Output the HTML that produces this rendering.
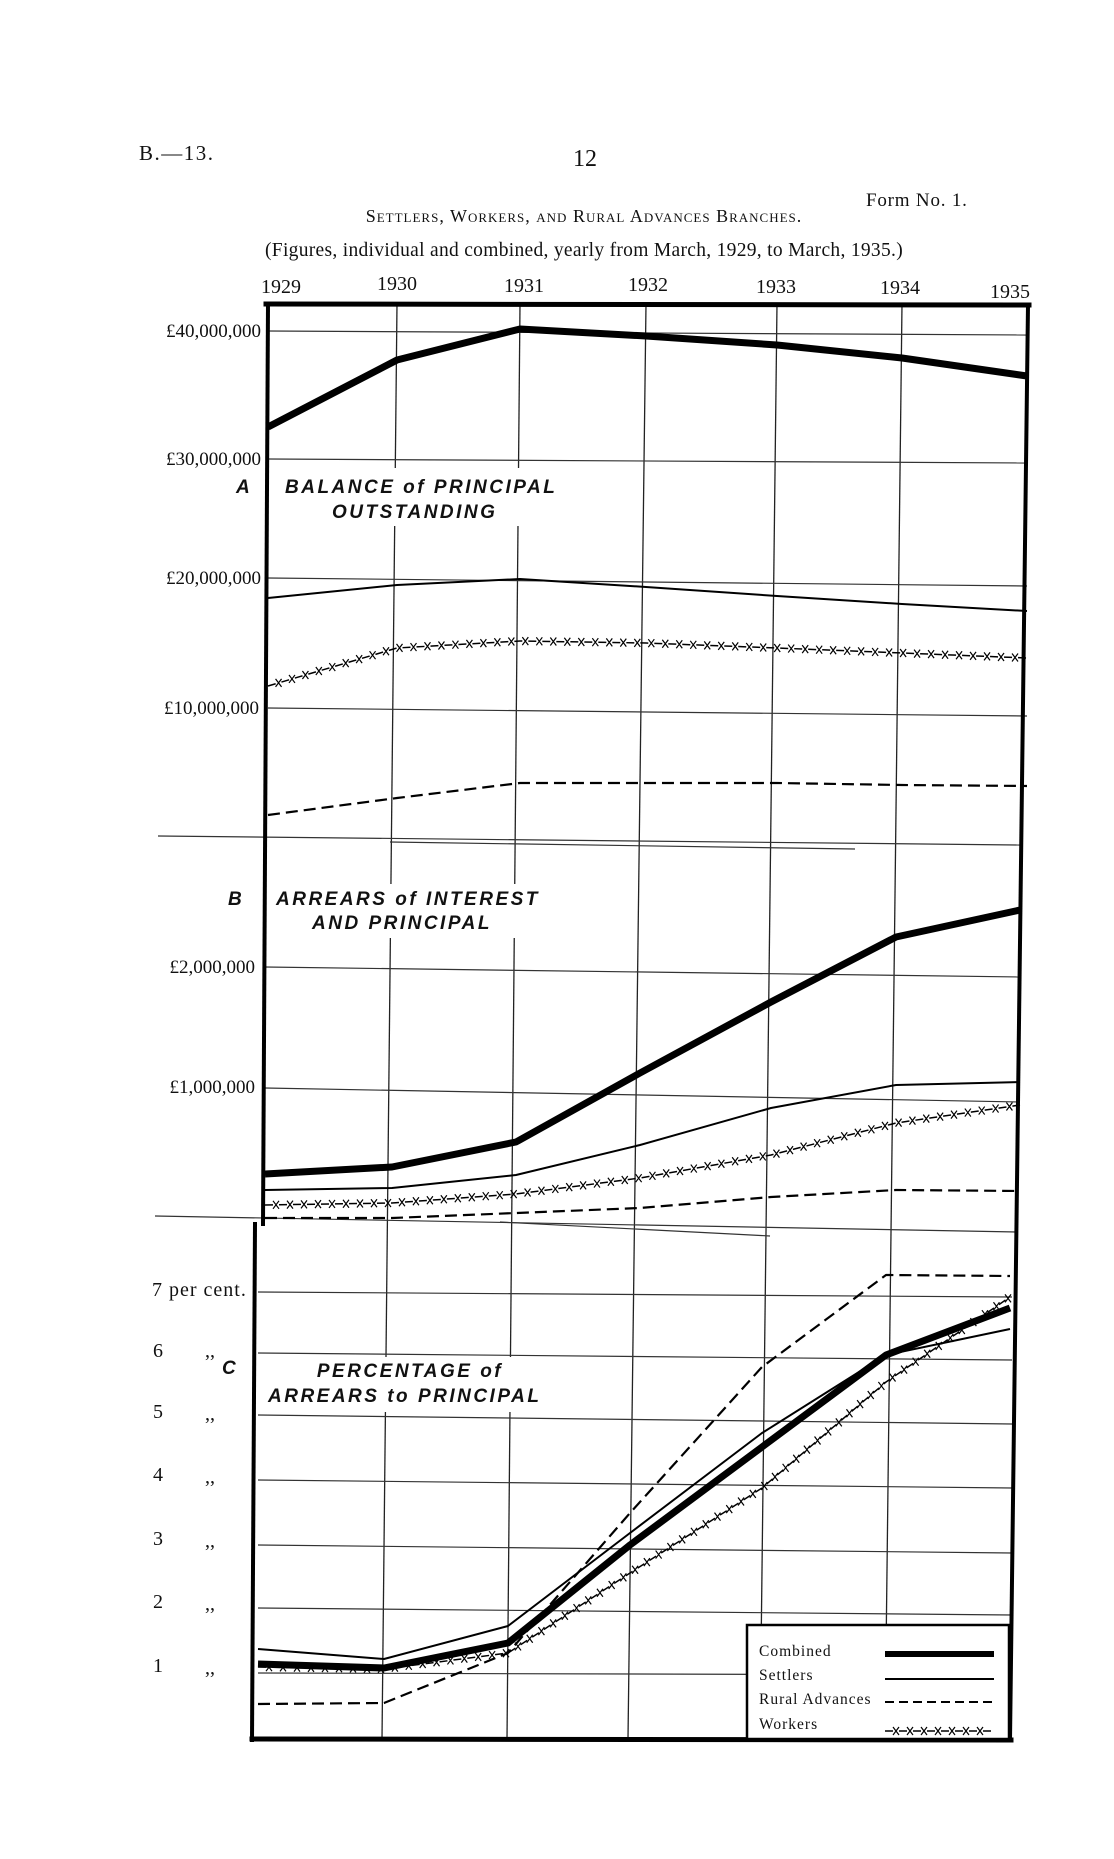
<!DOCTYPE html>
<html><head><meta charset="utf-8"><style>
html,body{margin:0;padding:0;background:#fff}
svg{display:block}
.s{font-family:"Liberation Serif",serif;fill:#111}
.l{font-family:"Liberation Sans",sans-serif;font-weight:bold;font-style:italic;fill:#111;letter-spacing:2.5px}
</style></head><body>
<svg id="c" width="1114" height="1859" viewBox="0 0 1114 1859" xmlns="http://www.w3.org/2000/svg">
<rect width="1114" height="1859" fill="#fff"/>
<text class="s" x="139" y="160" font-size="21" letter-spacing="1.5">B.—13.</text>
<text class="s" x="585" y="166" font-size="24" text-anchor="middle">12</text>
<text class="s" x="866" y="206" font-size="19" letter-spacing="0.8">Form No. 1.</text>
<text class="s" x="584" y="222" font-size="18" text-anchor="middle" letter-spacing="1">S<tspan font-size="13">ETTLERS</tspan>, W<tspan font-size="13">ORKERS</tspan>, <tspan font-size="13">AND</tspan> R<tspan font-size="13">URAL</tspan> A<tspan font-size="13">DVANCES</tspan> B<tspan font-size="13">RANCHES</tspan>.</text>
<text class="s" x="584" y="256" font-size="19.5" text-anchor="middle" letter-spacing="0.3">(Figures, individual and combined, yearly from March, 1929, to March, 1935.)</text>
<g class="s" font-size="20" text-anchor="middle">
<text x="281" y="293">1929</text><text x="397" y="290">1930</text><text x="524" y="292">1931</text>
<text x="648" y="291">1932</text><text x="776" y="293">1933</text><text x="900" y="294">1934</text><text x="1010" y="298">1935</text>
</g>
<g stroke="#222" stroke-width="1.3">
<line x1="397" y1="304" x2="382" y2="1739"/>
<line x1="520" y1="304" x2="507" y2="1739"/>
<line x1="646" y1="304" x2="628" y2="1739"/>
<line x1="777" y1="304" x2="760" y2="1739"/>
<line x1="902" y1="304" x2="885" y2="1739"/>
</g>
<g stroke="#333" stroke-width="1.2">
<line x1="268" y1="331" x2="1027" y2="335"/>
<line x1="268" y1="459" x2="1027" y2="463"/>
<line x1="268" y1="578" x2="1027" y2="586"/>
<line x1="268" y1="708" x2="1027" y2="716"/>
<line x1="158" y1="836" x2="1020" y2="845"/>
<line x1="390" y1="842" x2="855" y2="849"/>
<line x1="265" y1="967" x2="1020" y2="977"/>
<line x1="265" y1="1088" x2="1020" y2="1102"/>
<line x1="155" y1="1216" x2="1018" y2="1232"/>
<line x1="500" y1="1222" x2="770" y2="1236"/>
<line x1="258" y1="1292" x2="1012" y2="1297"/>
<line x1="258" y1="1353" x2="1012" y2="1360"/>
<line x1="258" y1="1415" x2="1012" y2="1424"/>
<line x1="258" y1="1480" x2="1012" y2="1488"/>
<line x1="258" y1="1545" x2="1012" y2="1553"/>
<line x1="258" y1="1608" x2="1012" y2="1615"/>
<line x1="258" y1="1673" x2="1012" y2="1675"/>
</g>
<rect x="272" y="468" width="320" height="58" fill="#fff"/>
<rect x="270" y="884" width="300" height="54" fill="#fff"/>
<rect x="262" y="1357" width="300" height="55" fill="#fff"/>
<g stroke="#000" fill="none" stroke-linecap="square">
<line x1="266" y1="304" x2="1029" y2="305" stroke-width="5"/>
<line x1="1028" y1="305" x2="1010" y2="1740" stroke-width="4"/>
<line x1="268" y1="304" x2="263" y2="1224" stroke-width="4"/>
<line x1="255" y1="1224" x2="252" y2="1740" stroke-width="4"/>
<line x1="252" y1="1739" x2="1011" y2="1740" stroke-width="5"/>
</g>
<g class="s" font-size="19" text-anchor="end">
<text x="261" y="337">£40,000,000</text>
<text x="261" y="465">£30,000,000</text>
<text x="261" y="584">£20,000,000</text>
<text x="259" y="714">£10,000,000</text>
<text x="255" y="973">£2,000,000</text>
<text x="255" y="1093">£1,000,000</text>
</g>
<g class="s" font-size="20">
<text x="152" y="1296" letter-spacing="1">7 per cent.</text>
<text x="153" y="1357">6</text><text x="205" y="1357">,,</text>
<text x="153" y="1418">5</text><text x="205" y="1420">,,</text>
<text x="153" y="1481">4</text><text x="205" y="1483">,,</text>
<text x="153" y="1545">3</text><text x="205" y="1547">,,</text>
<text x="153" y="1608">2</text><text x="205" y="1610">,,</text>
<text x="153" y="1672">1</text><text x="205" y="1674">,,</text>
</g>
<g class="l" font-size="19">
<text x="236" y="493">A</text>
<text x="285" y="493">BALANCE of PRINCIPAL</text>
<text x="332" y="518">OUTSTANDING</text>
<text x="228" y="905">B</text>
<text x="276" y="905">ARREARS of INTEREST</text>
<text x="312" y="929">AND PRINCIPAL</text>
<text x="222" y="1374">C</text>
<text x="410" y="1377" text-anchor="middle">PERCENTAGE of</text>
<text x="268" y="1402">ARREARS to PRINCIPAL</text>
</g>
<g fill="none" stroke="#000" stroke-linejoin="round">
<polyline stroke-width="7" points="268,427 397,360 520,329 646,336 777,345 902,358 1027,376"/>
<polyline stroke-width="2" points="268,598 397,585 520,579 646,587 777,596 902,604 1027,611"/>
<polyline class="w" stroke-width="1.5" stroke-dasharray="8 6" points="268,686 397,648 520,641 646,643 777,648 902,653 1027,658"/>
<polyline stroke-width="2.2" stroke-dasharray="12 6" points="268,815 397,798 520,783 646,783 777,783 902,785 1027,786"/>
<polyline stroke-width="7" points="265,1174 392,1167 516,1142 640,1073 771,1002 896,937 1020,910"/>
<polyline stroke-width="2" points="265,1190 392,1188 516,1175 640,1145 771,1108 896,1085 1020,1082"/>
<polyline class="w" stroke-width="1.5" stroke-dasharray="8 6" points="265,1205 392,1203 516,1194 640,1178 771,1155 896,1123 1020,1105"/>
<polyline stroke-width="2.2" stroke-dasharray="12 6" points="265,1218 392,1218 516,1213 640,1208 771,1197 896,1190 1020,1191"/>
<polyline stroke-width="2.2" stroke-dasharray="12 6" points="258,1704 384,1703 508,1653 630,1513 762,1367 886,1275 1010,1276"/>
<polyline stroke-width="2" points="258,1649 384,1659 508,1626 630,1533 762,1433 886,1355 1010,1329"/>
<polyline class="w" stroke-width="1.5" stroke-dasharray="8 6" points="258,1667 384,1669 508,1653 630,1573 762,1488 886,1382 1010,1297"/>
<polyline stroke-width="7" points="258,1664 384,1668 508,1643 630,1545 762,1447 886,1355 1010,1308"/>
</g>
<rect x="747" y="1625" width="262" height="114" fill="#fff" stroke="#000" stroke-width="2.5"/>
<g class="s" font-size="15.5" letter-spacing="1">
<text x="759" y="1656">Combined</text>
<text x="759" y="1680">Settlers</text>
<text x="759" y="1704">Rural Advances</text>
<text x="759" y="1729">Workers</text>
</g>
<g stroke="#000" fill="none">
<line x1="885" y1="1654" x2="994" y2="1654" stroke-width="6"/>
<line x1="885" y1="1679" x2="994" y2="1679" stroke-width="2"/>
<line x1="885" y1="1702" x2="994" y2="1702" stroke-width="2" stroke-dasharray="9 5"/>
<polyline class="w" points="885,1731 994,1731" stroke-width="1.5" stroke-dasharray="8 6"/>
</g>
<g id="xs" stroke="#000" stroke-width="1.2"></g>
</svg>
<script>
(function(){
var ns="http://www.w3.org/2000/svg",g=document.getElementById("xs");
var pls=document.querySelectorAll("polyline.w");
for(var i=0;i<pls.length;i++){
var p=pls[i].getAttribute("points").trim().split(/\s+/).map(function(s){return s.split(",").map(Number);});
var carry=11;
for(var j=0;j<p.length-1;j++){
var dx=p[j+1][0]-p[j][0],dy=p[j+1][1]-p[j][1],L=Math.sqrt(dx*dx+dy*dy),d=carry;
while(d<L){var x=p[j][0]+dx*d/L,y=p[j][1]+dy*d/L;
var a=document.createElementNS(ns,"path");
a.setAttribute("d","M"+(x-3)+","+(y-4)+"L"+(x+3)+","+(y+4)+"M"+(x+3)+","+(y-4)+"L"+(x-3)+","+(y+4));
g.appendChild(a);d+=14;}
carry=d-L;}
}})();
</script>
</body></html>
